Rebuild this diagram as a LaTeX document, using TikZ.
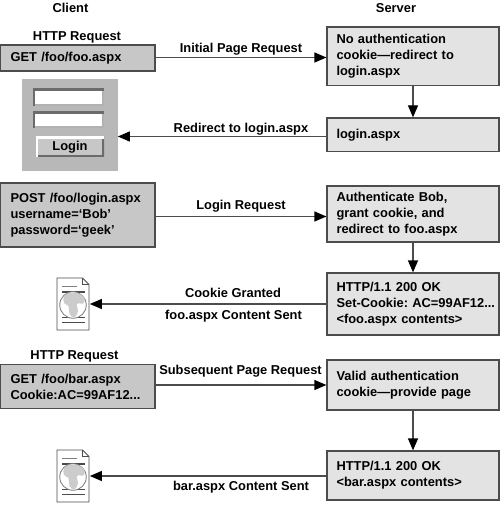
\documentclass[tikz,border=0pt]{standalone}
\usepackage{fontspec}
\setmainfont{Liberation Sans}
\usetikzlibrary{arrows.meta, positioning, calc}

\definecolor{clientgray}{gray}{0.78}
\definecolor{servergray}{gray}{0.89}
\definecolor{panelgray}{gray}{0.72}
\definecolor{bevelgray}{gray}{0.42}
\definecolor{linegray}{gray}{0.3}

\tikzset{
    pics/docicon/.style={code={
        \draw[linegray, fill=white, line width=0.5pt] (-0.32,-0.52) -- (-0.32,0.52) -- (0.19,0.52) -- (0.32,0.39) -- (0.32,-0.52) -- cycle;
        \draw[linegray, line width=0.4pt] (0.19,0.52) -- (0.19,0.39) -- (0.32,0.39);
        \draw[gray, line width=0.8pt] (-0.22,0.35) -- (0.08,0.35);
        \draw[linegray, line width=0.6pt] (-0.22,0.24) -- (0.24,0.24);
        \draw[linegray, line width=0.6pt] (-0.22,-0.27) -- (0.24,-0.27);
        \draw[linegray, line width=0.6pt] (-0.22,-0.37) -- (0.24,-0.37);
        \draw[gray, fill=white, line width=0.5pt] (0,-0.02) circle (0.265);
        \fill[black!20] plot[smooth cycle, tension=0.7] coordinates {(-0.17,0.17) (0,0.23) (0.2,0.16) (0.22,0.02) (0.08,0) (0.1,-0.14) (0.03,-0.27) (-0.07,-0.2) (-0.09,-0.04) (-0.18,0.02)};
    }}
}

\begin{document}
\begin{tikzpicture}[
        boxfont/.style={font=\fontsize{7.33}{9.07}\selectfont\bfseries\frenchspacing},
        client/.style={rectangle, draw=linegray, line width=0.7pt, fill=clientgray, align=left, boxfont, inner ysep=0pt, inner xsep=0.2cm, text width=2.69cm},
        server/.style={rectangle, draw=linegray, line width=0.7pt, fill=servergray, align=left, boxfont, inner ysep=0pt, inner xsep=0.19cm, text width=3.06cm},
        arrow/.style={-{Triangle[length=0.24cm, width=0.2cm, black]}, draw=linegray, line width=0.7pt},
        msglabel/.style={boxfont, inner sep=0pt, text height=5.5pt, text depth=1.5pt},
        docbox/.style={minimum width=0.66cm, minimum height=1.04cm, inner sep=0pt},
        sunken/.style={rectangle, fill=white, inner sep=0pt, path picture={
            \draw[white!70!black, line width=0.08cm] (path picture bounding box.south west) -| (path picture bounding box.north east);
            \draw[bevelgray, line width=0.08cm] (path picture bounding box.south west) |- (path picture bounding box.north east);}},
        raised/.style={rectangle, fill=clientgray, inner sep=0pt, boxfont, path picture={
            \draw[bevelgray, line width=0.08cm] (path picture bounding box.south west) -| (path picture bounding box.north east);
            \draw[white, line width=0.08cm] (path picture bounding box.south west) |- (path picture bounding box.north east);}}
    ]
        \useasboundingbox (0,0) rectangle (10,-10.14);

        % headings
        \node[msglabel] (clienthead) at (1.41,-0.185) {Client};
        \node[msglabel] (serverhead) at (7.92,-0.185) {Server};
        \node[msglabel] (reqhead1) at (1.54,-0.74) {HTTP Request};
        \node[msglabel] (reqhead2) at (1.49,-7.11) {HTTP Request};

        % client side
        \node[client, minimum width=3.09cm, minimum height=0.52cm] (get1) at (1.555,-1.16) {GET /foo/foo.aspx};
        \node[client, minimum width=3.09cm, minimum height=1.28cm] (post) at (1.555,-4.3) {POST /foo/login.aspx\\username=‘Bob’\\password=‘geek’};
        \node[client, minimum width=3.09cm, minimum height=0.89cm] (get2) at (1.555,-7.73) {GET /foo/bar.aspx\\Cookie:AC=99AF12...};

        % login form
        \node[rectangle, fill=panelgray, minimum width=1.91cm, minimum height=1.85cm] (panel) at (1.395,-2.505) {};
        \node[sunken, minimum width=1.42cm, minimum height=0.34cm] (field1) at (1.37,-1.95) {};
        \node[sunken, minimum width=1.42cm, minimum height=0.32cm] (field2) at (1.37,-2.4) {};
        \node[raised, minimum width=1.36cm, minimum height=0.4cm] (loginbtn) at (1.4,-2.94) {Login};

        % server side
        \node[server, minimum width=3.44cm, minimum height=1.17cm] (nocookie) at (8.26,-1.125) {No authentication\\cookie—redirect to\\login.aspx};
        \node[server, minimum width=3.44cm, minimum height=0.67cm] (loginpage) at (8.26,-2.695) {login.aspx};
        \node[server, minimum width=3.44cm, minimum height=1.12cm] (auth) at (8.26,-4.28) {Authenticate Bob,\\grant cookie, and\\redirect to foo.aspx};
        \node[server, minimum width=3.44cm, minimum height=1.24cm] (setcookie) at (8.26,-6.08) {HTTP/1.1 200 OK\\\makebox[0pt][l]{Set-Cookie: AC=99AF12...}\\<foo.aspx contents>};
        \node[server, minimum width=3.44cm, minimum height=1cm] (valid) at (8.26,-7.7) {Valid authentication\\cookie—provide page};
        \node[server, minimum width=3.44cm, minimum height=0.98cm] (barpage) at (8.26,-9.51) {HTTP/1.1 200 OK\\<bar.aspx contents>};

        % page icons
        \node[docbox] (doc1) at (1.46,-6.08) {};
        \node[docbox] (doc2) at (1.46,-9.52) {};
        \pic at (doc1) {docicon};
        \pic at (doc2) {docicon};

        % message rows
        \coordinate (row1) at (0,-1.15);
        \coordinate (row2) at (0,-2.73);
        \coordinate (row3) at (0,-4.33);
        \coordinate (row4) at (0,-6.08);
        \coordinate (row5) at (0,-7.7);
        \coordinate (row6) at (0,-9.52);

        \draw[arrow] (row1 -| get1.east) -- (row1 -| nocookie.west);
        \draw[arrow] (row2 -| loginpage.west) -- (row2 -| panel.east);
        \draw[arrow] (row3 -| post.east) -- (row3 -| auth.west);
        \draw[arrow] (row4 -| setcookie.west) -- (row4 -| doc1.east);
        \draw[arrow] (row5 -| get2.east) -- (row5 -| valid.west);
        \draw[arrow] (row6 -| barpage.west) -- (row6 -| doc2.east);

        \draw[arrow] (nocookie) -- (loginpage);
        \draw[arrow] (auth) -- (setcookie);
        \draw[arrow] (valid) -- (barpage);

        % message labels
        \node[msglabel] (initial) at (4.82,-0.98) {Initial Page Request};
        \node[msglabel] (redirect) at (4.82,-2.58) {Redirect to login.aspx};
        \node[msglabel] (loginreq) at (4.82,-4.12) {Login Request};
        \node[msglabel] (granted) at (4.66,-5.87) {Cookie Granted};
        \node[msglabel] (foosent) at (4.67,-6.32) {foo.aspx Content Sent};
        \node[msglabel] (subsequent) at (4.81,-7.42) {Subsequent Page Request};
        \node[msglabel] (barsent) at (4.82,-9.73) {bar.aspx Content Sent};
    \end{tikzpicture}
\end{document}
